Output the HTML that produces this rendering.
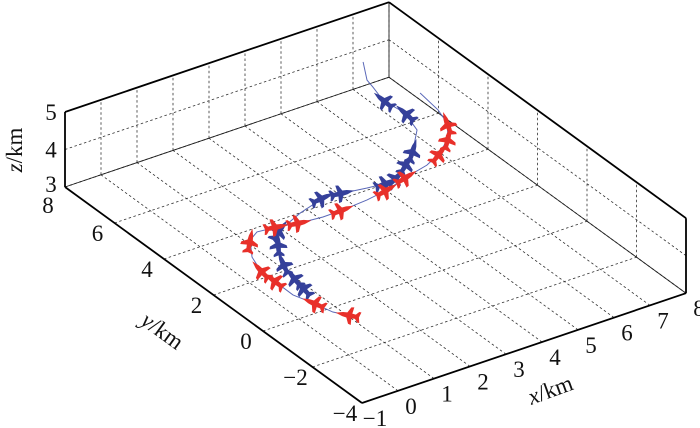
<!DOCTYPE html>
<html><head><meta charset="utf-8">
<style>
body{margin:0;background:#fff;}
svg{display:block;}
text{font-family:"Liberation Serif","DejaVu Serif",serif;}
</style></head>
<body>
<svg id="chart" width="700" height="428" viewBox="0 0 700 428" xmlns="http://www.w3.org/2000/svg" font-family="Liberation Serif, serif"></svg>
<script>
const xTicks=[-1,0,1,2,3,4,5,6,7,8];
const yTicks=[8,6,4,2,0,-2,-4];
const zTicks=[3,4,5];
const blueX=[6.93,6.53,6.46,6.31,6.39,6.18,5.58,5.13,4.57,4.23,3.72,3.13,2.63,1.80,0.98,0.60,0.17,0.00,-0.09];
const blueY=[7.49,6.75,6.41,5.79,5.02,4.22,3.51,3.10,2.69,2.59,2.66,2.78,2.85,2.57,2.19,1.72,0.90,0.24,-0.25];
const blueZ=[4,4,4,4,4,4,4,4,4,4,4,4,4,4,4,4,4,4,4];
const redX=[7.20,7.10,6.93,6.56,6.01,5.45,4.76,4.05,3.41,2.69,2.13,1.54,1.00,0.49,0.15,-0.26,-0.44,-0.46,-0.47,-0.30,-0.16,0.03];
const redY=[5.58,4.71,4.10,3.52,3.05,2.76,2.57,2.33,2.21,2.14,2.13,2.20,2.34,2.41,2.19,1.52,0.93,0.38,-0.44,-1.00,-1.60,-1.89];
const redZ=[4,4,4,4,4,4,4,4,4,4,4,4,4,4,4,4,4,4,4,4,4,4];
const bluePlanes=[3,4,6,7,8,9,11,12,14,15,16,17,18];
const redPlanes=[2,3,4,6,7,9,11,12,14,16,17,19,21];

const NS="http://www.w3.org/2000/svg";
const svg=document.getElementById('chart');
const O={x:362,y:403};
function P(x,y,z){const u=x+1,v=y+4,w=z-3;return [O.x+36*u-24.75*v, O.y-12.2*u-18*v-37.5*w];}
function el(tag,attrs,parent){const e=document.createElementNS(NS,tag);for(const k in attrs)e.setAttribute(k,attrs[k]);(parent||svg).appendChild(e);return e;}
function line(a,b,st,w,dash,name){const e=el('line',{x1:a[0],y1:a[1],x2:b[0],y2:b[1],stroke:st,'stroke-width':w});if(dash)e.setAttribute('stroke-dasharray',dash);


return e;}
const GD='2.5,2.5', GC='#333';
xTicks.forEach(x=>{line(P(x,-4,3),P(x,8,3),GC,0.8,GD,'floor-grid-x');});
yTicks.forEach(y=>{line(P(-1,y,3),P(8,y,3),GC,0.8,GD,'floor-grid-y');});
xTicks.forEach(x=>{line(P(x,8,3),P(x,8,5),GC,0.8,GD,'back-wall-grid-x');});
zTicks.forEach(z=>{line(P(-1,8,z),P(8,8,z),GC,0.8,GD,'back-wall-grid-z');});
yTicks.forEach(y=>{line(P(8,y,3),P(8,y,5),GC,0.8,GD,'side-wall-grid-y');});
zTicks.forEach(z=>{line(P(8,-4,z),P(8,8,z),GC,0.8,GD,'side-wall-grid-z');});
line(P(-1,8,3),P(8,8,3),'#222',0.9,null,'back-floor-edge');
line(P(8,8,3),P(8,-4,3),'#222',0.9,null,'side-floor-edge');
line(P(8,8,3),P(8,8,5),'#222',0.9,null,'back-corner-edge');
line(P(-1,8,5),P(8,8,5),'#000',1.8,null,'top-back-edge');
line(P(8,8,5),P(8,-4,5),'#000',1.8,null,'top-side-edge');
line(P(8,-4,3),P(8,-4,5),'#000',1.8,null,'right-vertical-edge');
line(P(-1,-4,3),P(8,-4,3),'#000',1.8,null,'x-axis');
line(P(-1,-4,3),P(-1,8,3),'#000',1.8,null,'y-axis');
line(P(-1,8,3),P(-1,8,5),'#000',1.8,null,'z-axis');
function txt(x,y,s,name,extra){const t=el('text',Object.assign({x:x,y:y,'font-size':23,'text-anchor':'middle',fill:'#111','font-family':'Liberation Serif, serif'},extra||{}));t.textContent=s;


return t;}
const fmt=v=>v<0?'\u2212'+(-v):String(v);
xTicks.forEach(x=>{const p=P(x,-4,3);txt(p[0]+13,p[1]+23,fmt(x),'x-tick-label');});
yTicks.forEach(y=>{const p=P(-1,y,3);txt(p[0]-17,p[1]+(y===8?26:18),fmt(y),'y-tick-label');});
zTicks.forEach(z=>{if(z===3)return;const p=P(-1,8,z);txt(p[0]-14,p[1]+8,fmt(z),'z-tick-label');});
{const p=P(-1,8,3);txt(p[0]-14,p[1]+5,'3','z-tick-label');}
let t=txt(0,0,'','z-axis-title',{transform:'translate(22,150) rotate(-90)'});t.innerHTML='<tspan font-style="italic">z</tspan>/km';
t=txt(0,0,'','y-axis-title',{transform:'translate(158,337) rotate(36)'});t.innerHTML='<tspan font-style="italic">y</tspan>/km';
t=txt(0,0,'','x-axis-title',{transform:'translate(553,397) rotate(-20)'});t.innerHTML='<tspan font-style="italic">x</tspan>/km';

function series(X,Y,Z,planes,color,name){
  const pts=X.map((x,i)=>P(x,Y[i],Z[i]));
  const pl=el('polyline',{points:pts.map(p=>p.join(',')).join(' '),fill:'none',stroke:'#5a68b8','stroke-width':1});
  
  
  planes.forEach(i=>{
    const a=pts[Math.max(i-1,0)],b=pts[Math.min(i+1,pts.length-1)];
    const ang=Math.atan2(a[1]-b[1],a[0]-b[0])*180/Math.PI;
    const g=el('path',{d:'M8,0 L3,-1.8 L0,-2.2 L-2,-7 L-4,-7.5 L-3.5,-2 L-6,-1.8 L-8,-4.5 L-9.5,-4.5 L-8.5,0 L-9.5,4.5 L-8,4.5 L-6,1.8 L-3.5,2 L-4,7.5 L-2,7 L0,2.2 L3,1.8 Z',fill:color,transform:`translate(${pts[i][0]},${pts[i][1]}) rotate(${ang}) scale(1.45,1.2)`});
    
    
  });
}
series(blueX,blueY,blueZ,bluePlanes,'#35409a','blue');
series(redX,redY,redZ,redPlanes,'#e8302a','red');
</script>
</body></html>
